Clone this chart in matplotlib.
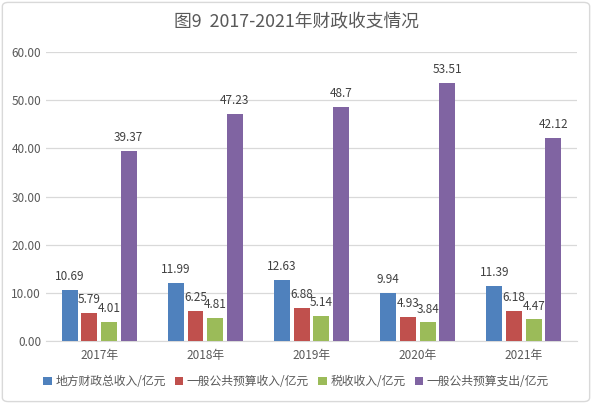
import matplotlib
matplotlib.use("Agg")
import matplotlib.pyplot as plt
from matplotlib.patches import FancyBboxPatch
import numpy as np

plt.rcParams['font.family'] = ['Noto Sans CJK SC', 'DejaVu Sans']

years = ["2017年", "2018年", "2019年", "2020年", "2021年"]
series_names = ["地方财政总收入/亿元", "一般公共预算收入/亿元", "税收收入/亿元", "一般公共预算支出/亿元"]
total_revenue = [10.69, 11.99, 12.63, 9.94, 11.39]
general_revenue = [5.79, 6.25, 6.88, 4.93, 6.18]
tax_revenue = [4.01, 4.81, 5.14, 3.84, 4.47]
general_expenditure = [39.37, 47.23, 48.7, 53.51, 42.12]
label_texts = [
    ["10.69", "11.99", "12.63", "9.94", "11.39"],
    ["5.79", "6.25", "6.88", "4.93", "6.18"],
    ["4.01", "4.81", "5.14", "3.84", "4.47"],
    ["39.37", "47.23", "48.7", "53.51", "42.12"],
]
colors = ["#4F81BD", "#C0504D", "#9BBB59", "#8064A2"]
text_color = "#595959"

fig = plt.figure(figsize=(5.92, 4.04), dpi=100)
ax = fig.add_axes([0.0777, 0.156, 0.897, 0.715])

x = np.arange(len(years))
width = 0.15
step = 0.185
data = [total_revenue, general_revenue, tax_revenue, general_expenditure]
for i, (vals, c, name) in enumerate(zip(data, colors, series_names)):
    pos = x + (i - 1.5) * step
    bars = ax.bar(pos, vals, width=width, color=c, label=name, zorder=3)
    for b, t in zip(bars, label_texts[i]):
        ax.annotate(t, (b.get_x() + b.get_width() / 2, b.get_height()),
                    xytext=(0, 5), textcoords="offset points",
                    ha="center", va="bottom", fontsize=8.5, color="#404040")

ax.set_xlim(-0.5, 4.5)
ax.set_ylim(0, 60)
ax.set_yticks(np.arange(0, 61, 10))
ax.set_yticklabels([f"{v:.2f}" for v in np.arange(0, 61, 10)])
ax.set_xticks(x)
ax.set_xticklabels(years)
ax.tick_params(axis='both', length=0, labelsize=8.5, colors=text_color)
ax.tick_params(axis='x', pad=6)
ax.grid(axis='y', color="#D9D9D9", linewidth=0.9, zorder=0)
for s in ["top", "right", "left"]:
    ax.spines[s].set_visible(False)
ax.spines["bottom"].set_color("#D9D9D9")

fig.text(0.5, 0.945, "图9  2017-2021年财政收支情况", ha="center", va="center",
         fontsize=12.8, color=text_color)

leg = fig.legend(loc="center", bbox_to_anchor=(0.5, 0.055), ncol=4, frameon=False,
                 fontsize=8.5, handlelength=0.7, handleheight=0.7, handletextpad=0.3,
                 columnspacing=0.8)
for t in leg.get_texts():
    t.set_color(text_color)

border = FancyBboxPatch((0.004, 0.006), 0.992, 0.988, boxstyle="round,pad=0,rounding_size=0.01",
                        transform=fig.transFigure, fill=False, edgecolor="#D9D9D9", linewidth=1)
fig.patches.append(border)

fig.savefig("out.png", dpi=100)
